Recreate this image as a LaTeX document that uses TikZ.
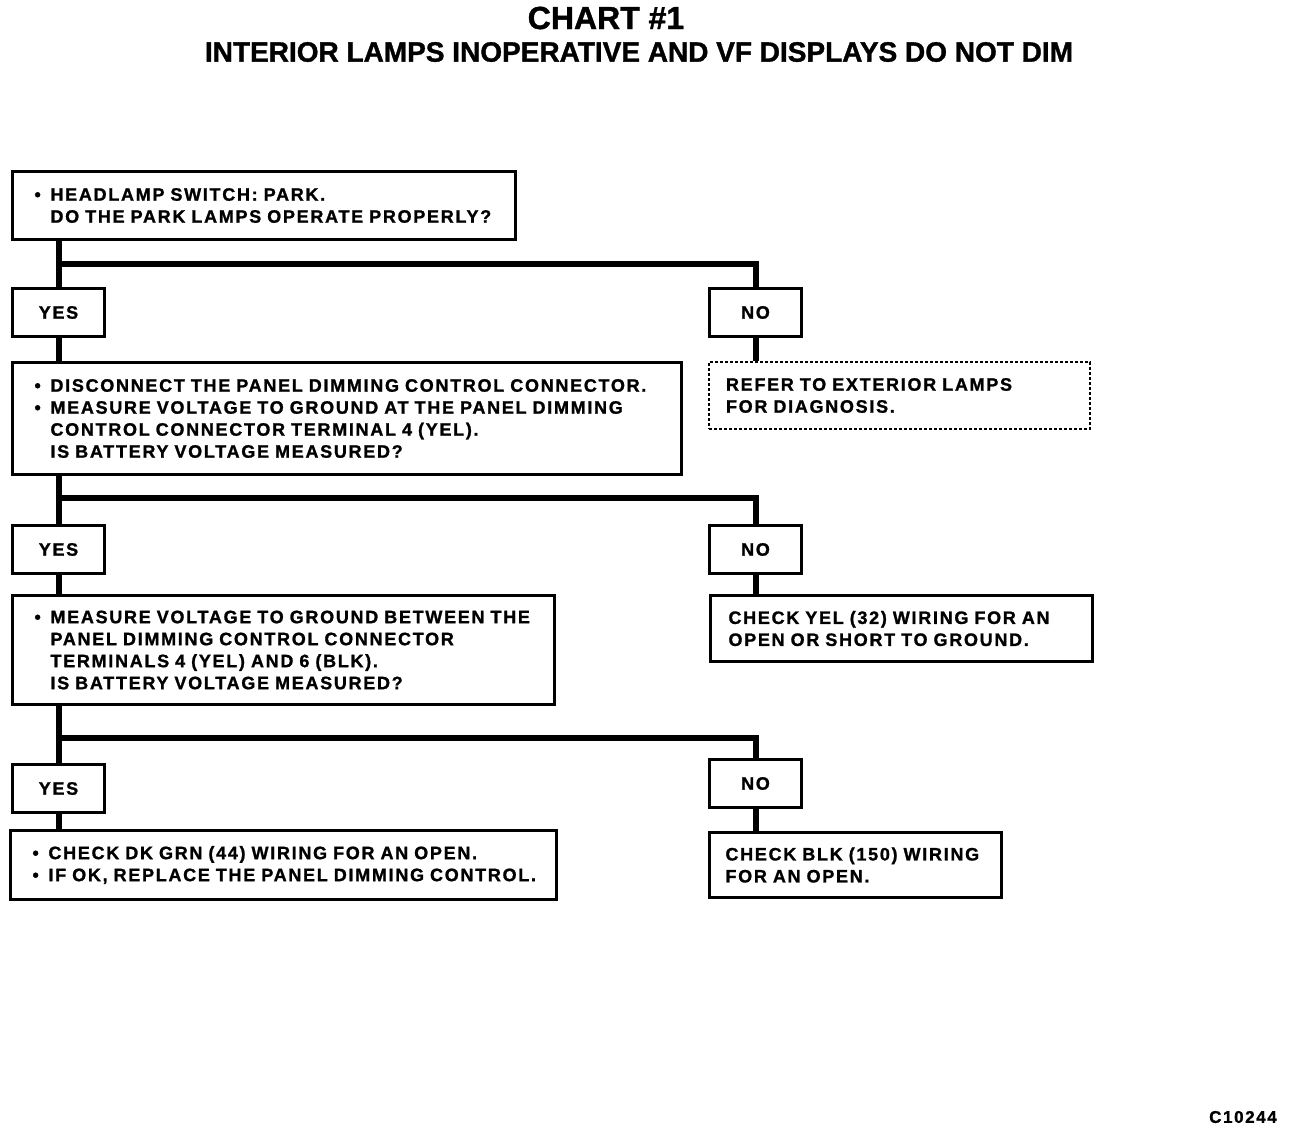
\documentclass[tikz,border=0pt]{standalone}
\usepackage{fontspec}
\setmainfont{Liberation Sans}[BoldFeatures={FakeBold=1.2}]
\newfontfamily\boxfont{Liberation Sans}[UprightFont=*,BoldFont=* Bold,BoldFeatures={LetterSpace=9.5,FakeBold=1.2}]
\usetikzlibrary{calc}
\tikzset{every node/.style={font=\boxfont\bfseries\fontsize{9}{11}\selectfont},
  box/.style={draw,line width=1.5pt,anchor=north west,align=left,inner xsep=11pt,inner ysep=0pt},
  ans/.style={draw,line width=1.5pt,anchor=north west,minimum width=46pt,minimum height=24pt,inner sep=0pt},
  link/.style={line width=3pt}}
\newcommand{\itm}{\makebox[8pt][l]{\textbullet}}
\newcommand{\ind}{\hspace*{8pt}}

\begin{document}
\begin{tikzpicture}[x=0.5pt,y=-0.5pt]
\useasboundingbox (0,0) rectangle (1296,1132);
% titles
\node[font=\bfseries\fontsize{16}{18}\selectfont] (title) at (606,18) {CHART \#1};
\node[font=\bfseries\fontsize{14}{16}\selectfont] (sub) at (639,52) {INTERIOR LAMPS INOPERATIVE AND VF DISPLAYS DO NOT DIM};
% steps
\node[box,text width=229.5pt,minimum height=34pt] (park) at (11,170) {\itm HEADLAMP SWITCH: PARK.\\\ind DO THE PARK LAMPS OPERATE PROPERLY?};
\node[ans] (yes1) at (11,287) {YES};
\node[ans] (no1) at (708,287) {NO};
\node[box,text width=312.5pt,minimum height=56pt] (dim) at (11,361) {\itm DISCONNECT THE PANEL DIMMING CONTROL CONNECTOR.\\\itm MEASURE VOLTAGE TO GROUND AT THE PANEL DIMMING\\\ind CONTROL CONNECTOR TERMINAL 4 (YEL).\\\ind IS BATTERY VOLTAGE MEASURED?};
\node[box,densely dotted,line width=1pt,inner xsep=8.5pt,text width=173.5pt,minimum height=33.5pt] (ext) at (708,361) {REFER TO EXTERIOR LAMPS\\FOR DIAGNOSIS.};
\node[ans] (yes2) at (11,524) {YES};
\node[ans] (no2) at (708,524) {NO};
\node[box,text width=249pt,minimum height=54.5pt] (meas) at (11,594) {\itm MEASURE VOLTAGE TO GROUND BETWEEN THE\\\ind PANEL DIMMING CONTROL CONNECTOR\\\ind TERMINALS 4 (YEL) AND 6 (BLK).\\\ind IS BATTERY VOLTAGE MEASURED?};
\node[box,inner xsep=9pt,text width=173pt,minimum height=33pt] (yel) at (709,594) {CHECK YEL (32) WIRING FOR AN\\OPEN OR SHORT TO GROUND.};
\node[ans] (yes3) at (11,763) {YES};
\node[ans] (no3) at (708,758) {NO};
\node[box,text width=251pt,minimum height=34.5pt] (grn) at (9,829) {\itm CHECK DK GRN (44) WIRING FOR AN OPEN.\\\itm IF OK, REPLACE THE PANEL DIMMING CONTROL.};
\node[box,inner xsep=8pt,text width=130pt,minimum height=32.5pt] (blk) at (708,831) {CHECK BLK (150) WIRING\\FOR AN OPEN.};
\node[font=\boxfont\bfseries\fontsize{8.5}{10}\selectfont] (code) at (1243,1117) {C10244};
% branches
\coordinate (br1) at (0,264);
\coordinate (br2) at (0,498);
\coordinate (br3) at (0,738);
\draw[link] (park.south -| yes1.north) -- (yes1.north);
\draw[link] (yes1.north |- br1) -| (no1.north);
\draw[link] (yes1.south) -- (yes1.south |- dim.north);
\draw[link] (no1.south) -- (no1.south |- ext.north);
\draw[link] (dim.south -| yes2.north) -- (yes2.north);
\draw[link] (yes2.north |- br2) -| (no2.north);
\draw[link] (yes2.south) -- (yes2.south |- meas.north);
\draw[link] (no2.south) -- (no2.south |- yel.north);
\draw[link] (meas.south -| yes3.north) -- (yes3.north);
\draw[link] (yes3.north |- br3) -| (no3.north);
\draw[link] (yes3.south) -- (yes3.south |- grn.north);
\draw[link] (no3.south) -- (no3.south |- blk.north);
\end{tikzpicture}
\end{document}
